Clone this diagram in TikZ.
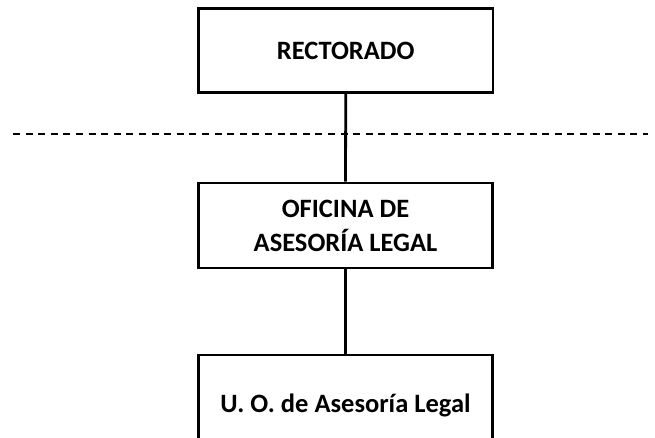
\documentclass[tikz,border=0pt]{standalone}
\usepackage{fontspec}
\setmainfont{Carlito}
\begin{document}
\begin{tikzpicture}[x=1pt,y=-1pt,
  orgbox/.style={draw=black, line width=2.8pt, minimum width=294.5pt, inner sep=0pt, align=center,
    font=\fontsize{26.5}{34}\selectfont\bfseries},
  conn/.style={line width=2.8pt},
  sep/.style={line width=1.9pt, dash pattern=on 7pt off 5.6pt}]
\useasboundingbox (0,0) rectangle (655,438);
\node[orgbox, minimum height=84.5pt] (rect) at (345.75,50.5) {\raisebox{-3pt}{RECTORADO}};
\node[orgbox, minimum height=85pt] (ofi) at (345.5,225.5) {\raisebox{-8pt}{\parbox{285pt}{\centering OFICINA DE\\ASESORÍA LEGAL}}};
\node[orgbox, minimum height=100pt] (uo) at (345.5,405) {\raisebox{2pt}{U. O. de Asesoría Legal}};
\coordinate (dl) at (13,134.3);
\coordinate (dr) at (648,134.3);
\draw[sep] (dl) -- (dr);
\draw[conn] (rect.south) -- (ofi.north);
\draw[conn] (ofi.south) -- (uo.north);
\end{tikzpicture}
\end{document}
